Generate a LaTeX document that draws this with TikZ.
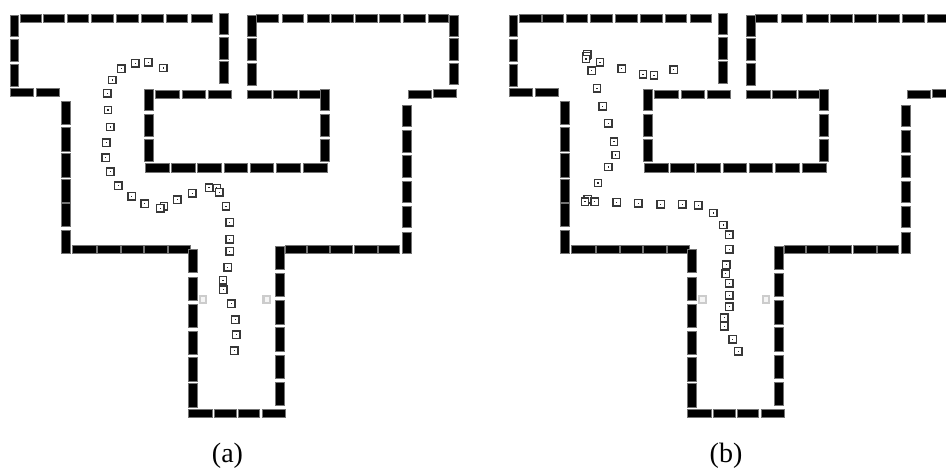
\documentclass[tikz,border=0pt]{standalone}
\usepackage{fontspec}
\setmainfont{Liberation Serif}
\tikzset{
  wallbar/.style={fill=black,draw=black!55,line width=0.4pt},
  track/.style={draw=black!78,line width=1.15pt,fill=white,minimum size=7.4pt,inner sep=0pt,outer sep=0pt,rectangle},
  trackdot/.style={fill=black!85,draw=none,minimum size=1.1pt,inner sep=0pt,rectangle},
  beacon/.style={draw=black!20,line width=2.2pt,fill=black!4,minimum size=6.6pt,inner sep=0pt,outer sep=0pt,rectangle},
  caption/.style={font=\fontsize{28}{30}\selectfont,inner sep=0pt,anchor=base}
}
\newcommand{\mapwalls}{%
  \foreach \xa/\ya/\xb/\yb in {
    20/14/41.5/22.7, 42.7/14/64/22.7, 66.7/14/88.3/22.7, 91/14/112.7/22.7, 116.3/14/137.7/22.7, 141.3/14/163.3/22.7, 165.7/14/187.3/22.7, 191/14/212.3/22.7,
    9.7/15/18.3/36.7, 9.7/39.3/18.3/61, 9.7/64.7/18.3/86.3,
    9.7/88.3/33.3/96.7, 35.7/88.3/59.3/96.7,
    61/101.3/69.7/124.7, 61/127.3/69.7/151, 61/153.7/69.7/177, 61/179/69.7/202.3, 61/203.3/69.7/226, 61/230.3/69.7/253.7,
    72.3/245.3/95.7/253.7, 97/245.3/120/253.7, 121/245.3/143.3/253.7, 144.3/245.3/166.7/253.7, 167.7/245.3/190/253.7,
    188/249/196.7/272.3, 188/277.3/196.7/300.3, 188/304.3/196.7/327.7, 188/331.3/196.7/354.7, 188/357.7/196.7/381, 188/383.7/196.7/407,
    188/409.3/211.7/417.7, 214/409.3/235.7/417.7, 237.7/409.3/259.3/417.7, 262/409.3/285.3/417.7,
    275/246.3/283.7/269.7, 275/273.7/283.7/296.7, 275/300.7/283.7/324, 275/327.7/283.7/351, 275/355/283.7/378.3, 275/382/283.7/405.3,
    284.7/245/306/253.7, 306.7/245/329.3/253.7, 330/245/352.3/253.7, 353.7/245/377/253.7, 377.7/245/399.3/253.7,
    402/232.3/410.7/253.7, 402/206/410.7/227.7, 402/181/410.7/202.7, 402/155.7/410.7/177.3, 402/130.3/410.7/152, 402/105/410.7/126.7,
    407.7/90/431/98.7, 433/89/456.3/97.7,
    449/15/457.7/36.7, 449/38.3/457.7/60, 449/63/457.7/84.7,
    256.3/14/278/22.7, 281.7/14/303.3/22.7, 306.7/14/328.7/22.7, 331/14/352.7/22.7, 355.3/14/377/22.7, 378.7/14/400.3/22.7, 403/14/424.7/22.7, 428.3/14/448/22.7,
    247/15/255.7/36.7, 247/38.3/255.7/60, 247/63.7/255.7/85.3,
    247/90/270.7/98.7, 273.3/90/296.7/98.7, 299.3/90/322.7/98.7,
    320/89/328.7/110.7, 320/114.3/328.7/136, 320/139.7/328.7/161.3,
    145.3/163.7/168.7/172.3, 171.3/163.7/195/172.3, 197.3/163.7/221/172.3, 223.7/163.7/247/172.3, 249.7/163.7/273.3/172.3, 276/163.7/299.7/172.3, 303/163.7/326.7/172.3,
    144.3/89/153/110.7, 144.3/114.3/153/136, 144.3/139.7/153/161.3,
    155.3/90/179/98.7, 181.7/90/205.3/98.7, 207.7/90/231.3/98.7,
    219/13.3/227.7/34.7, 219/37.3/227.7/59, 219/61.7/227.7/83.3
  }{\draw[wallbar] (\xa,\ya) rectangle (\xb,\yb);}%
  \node[beacon] (bl) at (203,299.7) {};
  \node[beacon] (br) at (266.7,299.7) {};
}
\newcommand{\trackmark}[2]{\node[track] at (#1,#2) {}; \node[trackdot] at (#1,#2) {};}
\begin{document}
\begin{tikzpicture}[x=1pt,y=-1pt]
\useasboundingbox (0,0) rectangle (946,470);
\clip (0,0) rectangle (946,470);
\fill[white] (0,0) rectangle (946,470);
\begin{scope}
  \mapwalls
  \foreach \p/\q in {490/204,445/187,406/190,364/206,337/240,322/280,324/330,331/381,319/428,317/473,331/515,355/557,395/589,434/611,492/619,481/625,532/599,577/580,627/563,650/564,658/577,678/619}
    {\trackmark{\p/3}{\q/3}}
  \foreach \p/\q in {539/37,539/88,539/124,533/172,519/211,520/239,544/281,556/329,559/374,553/422}
    {\trackmark{50+\p/3}{210+\q/3}}
\end{scope}
\begin{scope}[xshift=499.3pt]
  \mapwalls
\end{scope}
\foreach \p/\q in {521/209,462/226,429/223,365/206,300/187,275/212,262/163,260/168,258/177,291/265,308/319,325/370,342/425,347/465,325/501,294/549,263/598,255/605,284/605,350/607,415/610,482/613,547/613,595/616,640/639}
  {\trackmark{500+\p/3}{\q/3}}
\foreach \p/\q in {490/9,520/45,538/74,538/118,529/164,527/191,538/220,538/256,538/290,523/323,523/349,548/388,565/424}
  {\trackmark{550+\p/3}{210+\q/3}}
\node[caption] (capa) at (227.5,463) {(a)};
\node[caption] (capb) at (726,463) {(b)};
\end{tikzpicture}
\end{document}
